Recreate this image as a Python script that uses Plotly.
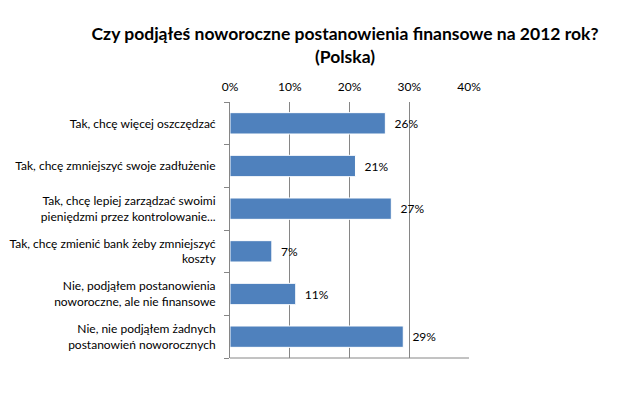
import plotly.graph_objects as go

categories = [
    "Tak, chcę więcej oszczędzać",
    "Tak, chcę zmniejszyć swoje zadłużenie",
    "Tak, chcę lepiej zarządzać swoimi<br>pieniędzmi przez kontrolowanie...",
    "Tak, chcę zmienić bank żeby zmniejszyć<br>koszty",
    "Nie, podjąłem postanowienia<br>noworoczne, ale nie finansowe",
    "Nie, nie podjąłem żadnych<br>postanowień noworocznych",
]
values = [26, 21, 27, 7, 11, 29]
labels = [f"  {v}%" for v in values]
x_ticks = [0, 10, 20, 30, 40]
x_tick_text = ["0%", "10%", "20%", "30%", "40%"]

FONT = "Lato, Open Sans, sans-serif"

fig = go.Figure()
fig.add_trace(go.Bar(
    y=categories, x=values, orientation="h",
    marker=dict(color="#4F81BD", line=dict(color="#ffffff", width=1)),
    width=0.5,
    text=labels, textposition="outside", cliponaxis=False,
    textfont=dict(family=FONT, size=12, color="#000000"),
    hoverinfo="skip",
))

fig.update_layout(
    width=644, height=397,
    margin=dict(l=222, r=183, t=94, b=47, autoexpand=False),
    paper_bgcolor="white", plot_bgcolor="white",
    showlegend=False,
    title=dict(
        text="<b>Czy podjąłeś noworoczne postanowienia finansowe na 2012 rok?<br>(Polska)</b>",
        x=337 / 644, xanchor="center", y=1 - 32 / 397, yanchor="middle",
        font=dict(family=FONT, size=17.5, color="#000000"),
    ),
    xaxis=dict(
        side="top", range=[0, 40], tickvals=x_ticks, ticktext=x_tick_text,
        showgrid=True, gridcolor="#868686", gridwidth=1,
        showline=False, zeroline=False, ticks="", automargin=False,
        tickfont=dict(family=FONT, size=12, color="#000000"),
        ticklabelstandoff=8,
    ),
    yaxis=dict(
        range=[5.5, -0.5], showgrid=False, showline=True, linecolor="#868686",
        ticks="", automargin=False, tickfont=dict(family=FONT, size=12, color="#000000"),
        ticklabelstandoff=11,
    ),
    yaxis2=dict(
        overlaying="y", range=[5.5, -0.5], tickvals=[-0.5, 0.5, 1.5, 2.5, 3.5, 4.5, 5.5],
        ticks="outside", ticklen=5, tickcolor="#868686", showticklabels=False,
        showgrid=False, showline=False, zeroline=False, side="left", automargin=False,
    ),
    shapes=[dict(type="line", xref="paper", yref="paper", x0=0, x1=1, y0=0, y1=0,
                 line=dict(color="#868686", width=1))],
)
fig.add_trace(go.Scatter(x=[None], y=[None], yaxis="y2", showlegend=False, hoverinfo="skip"))

fig.write_html("out.html")
